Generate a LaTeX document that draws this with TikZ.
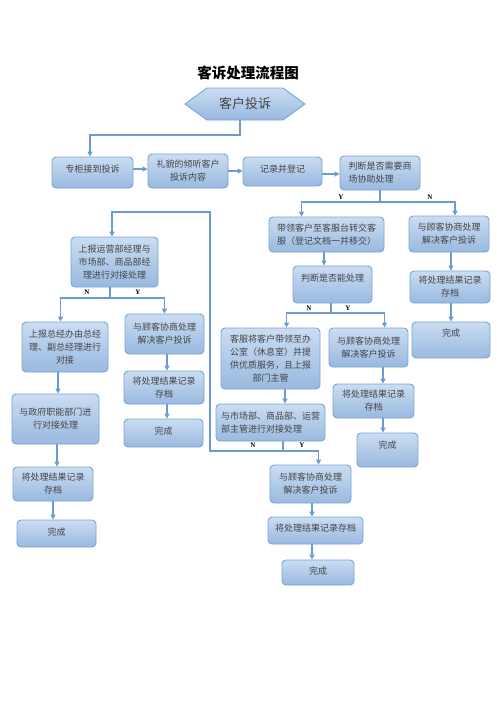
\documentclass[tikz,border=0pt]{standalone}
\usepackage{fontspec}
\newfontfamily\cjk{Noto Sans CJK SC}
\newfontfamily\lat{Liberation Serif}
\usetikzlibrary{shapes.symbols,arrows.meta,calc}
\definecolor{lineblue}{HTML}{6C9BD2}
\definecolor{boxtop}{HTML}{CADDF2}
\definecolor{boxbot}{HTML}{98B9DF}
\definecolor{boxedge}{HTML}{7BA4D3}
\definecolor{txt}{HTML}{444444}
\tikzset{
 box/.style={draw=boxedge, line width=0.9pt, rounded corners=4pt, top color=boxtop, bottom color=boxbot, font=\cjk\fontsize{9}{13}\selectfont, text=txt, align=center, inner sep=2pt},
 hexs/.style={shape=signal, signal to=west and east, signal pointer angle=72, draw=boxedge, line width=0.9pt, top color=boxtop, bottom color=boxbot, font=\cjk\fontsize{13}{15}\selectfont, text=txt, inner sep=0pt},
 arr/.style={draw=lineblue, line width=1.6pt, -{Triangle[length=5pt,width=5pt]}},
 ln/.style={draw=lineblue, line width=1.6pt},
 yn/.style={font=\lat\bfseries\fontsize{7}{8}\selectfont, text=black, inner sep=0pt},
 ttl/.style={font=\cjk\bfseries\fontsize{14.5}{16}\selectfont, text=black}
}
\begin{document}
\begin{tikzpicture}[x=1pt,y=-1pt]
\fill[white] (0,0) rectangle (496,702);
\useasboundingbox (0,0) rectangle (496,702);

\node[ttl] (title) at (248,73) {客诉处理流程图};
\node[hexs, minimum width=120pt, minimum height=32pt] (hex) at (245,104) {客户投诉};

% row 1
\node[box, minimum width=81pt, minimum height=31pt, text depth=8pt] (n1) at (92.5,172.5) {专柜接到投诉};
\node[box, minimum width=80pt, minimum height=34pt] (n2) at (188,171) {礼貌的倾听客户\\投诉内容};
\node[box, minimum width=79pt, minimum height=29pt, text depth=6pt] (n3) at (282.5,171.5) {记录并登记};
\node[box, minimum width=80pt, minimum height=34pt, align=left] (n4) at (380,173) {判断是否需要商\\场协助处理};

% right part
\node[box, minimum width=115pt, minimum height=35pt] (n5) at (326.5,234.5) {带领客户至客服台转交客\\服（登记文档一并移交）};
\node[box, minimum width=80pt, minimum height=36pt] (n6) at (449,234) {与顾客协商处理\\解决客户投诉};
\node[box, minimum width=79pt, minimum height=37pt, text depth=13pt] (n7) at (332.5,284.5) {判断是否能处理};
\node[box, minimum width=99pt, minimum height=61pt] (n8) at (270.5,358.5) {客服将客户带领至办\\公室（休息室）并提\\供优质服务，且上报\\部门主管};
\node[box, minimum width=79pt, minimum height=39pt] (n9) at (368.5,347.5) {与顾客协商处理\\解决客户投诉};
\node[box, minimum width=81pt, minimum height=34pt] (n10) at (373.5,401) {将处理结果记录\\存档};
\node[box, minimum width=61pt, minimum height=34pt, text depth=10pt] (n11) at (387.5,450) {完成};
\node[box, minimum width=109pt, minimum height=37pt, align=left] (n12) at (270.5,422.5) {与市场部、商品部、运营\\部主管进行对接处理};
\node[box, minimum width=80pt, minimum height=32pt] (n13) at (450,287) {将处理结果记录\\存档};
\node[box, minimum width=78pt, minimum height=36pt, text depth=14pt] (n14) at (451,340) {完成};

% left part
\node[box, minimum width=87pt, minimum height=50pt] (n15) at (114.5,262) {上报运营部经理与\\市场部、商品部经\\理进行对接处理};
\node[box, minimum width=86pt, minimum height=50pt] (n16) at (65,347) {上报总经办由总经\\理、副总经理进行\\对接};
\node[box, minimum width=79pt, minimum height=40pt] (n17) at (164.5,334) {与顾客协商处理\\解决客户投诉};
\node[box, minimum width=80pt, minimum height=33pt] (n18) at (164,387.5) {将处理结果记录\\存档};
\node[box, minimum width=79pt, minimum height=28pt, text depth=5pt] (n19) at (163.5,433) {完成};
\node[box, minimum width=87pt, minimum height=50pt] (n20) at (55.5,419) {与政府职能部门进\\行对接处理};
\node[box, minimum width=80pt, minimum height=34pt] (n21) at (53,484) {将处理结果记录\\存档};
\node[box, minimum width=79pt, minimum height=27pt, text depth=4pt] (n22) at (56.5,533.5) {完成};

% bottom middle
\node[box, minimum width=81pt, minimum height=38pt] (n23) at (310.5,484) {与顾客协商处理\\解决客户投诉};
\node[box, minimum width=95pt, minimum height=27pt, text depth=6pt] (n24) at (315.5,530.5) {将处理结果记录存档};
\node[box, minimum width=72pt, minimum height=25pt, text depth=3pt] (n25) at (318,572.5) {完成};

% junctions
\coordinate (jh) at (240,135);
\coordinate (j4) at (380,202);
\coordinate (j7) at (331,313);
\coordinate (j12) at (283,451);
\coordinate (jl1) at (210,451);
\coordinate (jl2) at (210,212);
\coordinate (j15) at (110,298);

% labels
\node[yn] (y4) at (341,197) {Y};
\node[yn] (n4l) at (430,197) {N};
\node[yn] (n7l) at (309,308) {N};
\node[yn] (y7) at (348,308) {Y};
\node[yn] (n12l) at (253,445) {N};
\node[yn] (y12) at (302,445) {Y};
\node[yn] (n15l) at (87,292) {N};
\node[yn] (y15) at (138,292) {Y};

% connectors
\draw[arr] ([xshift=-5pt]hex.south) -- (jh) -| ([xshift=-2.5pt]n1.north);
\draw[arr] ([yshift=3.5pt]n1.east) -- ([yshift=3.5pt]n1.east -| n2.west);
\draw[arr] (n2.east) -- (n2.east -| n3.west);
\draw[arr] ([yshift=-2.5pt]n3.east) -- ([yshift=-2.5pt]n3.east -| n4.west);

\draw[ln] (n4.south) -- (j4);
\draw[arr] (j4) -| ([xshift=33pt]n5.north west);
\draw[arr] (j4) -| ([xshift=6pt]n6.north);

\draw[arr] ([xshift=-2.5pt]n5.south) -- ([xshift=-2.5pt]n5.south |- n7.north);
\draw[ln] ([xshift=-1.5pt]n7.south) -- (j7);
\draw[arr] (j7) -| ([xshift=66pt]n8.north west);
\draw[arr] (j7) -| ([xshift=56pt]n9.north west);
\draw[arr] ([xshift=14.5pt]n8.south) -- ([xshift=14.5pt]n8.south |- n12.north);
\draw[arr] ([xshift=14.5pt]n9.south) -- ([xshift=14.5pt]n9.south |- n10.north);
\draw[arr] ([xshift=9.5pt]n10.south) -- ([xshift=9.5pt]n10.south |- n11.north);

\draw[ln] ([xshift=12.5pt]n12.south) -- (j12);
\draw[arr] (j12) -- (jl1) -- (jl2) -| ([xshift=-2.5pt]n15.north);
\draw[arr] (j12) -| ([xshift=49pt]n23.north west);
\draw[arr] ([xshift=1.5pt]n23.south) -- ([xshift=1.5pt]n23.south |- n24.north);
\draw[arr] ([xshift=-3.5pt]n24.south) -- ([xshift=-3.5pt]n24.south |- n25.north);

\draw[arr] ([xshift=2pt]n6.south) -- ([xshift=2pt]n6.south |- n13.north);
\draw[arr] ([xshift=1pt]n13.south) -- ([xshift=1pt]n13.south |- n14.north);

\draw[ln] ([xshift=-4.5pt]n15.south) -- (j15);
\draw[arr] (j15) -| ([xshift=39pt]n16.north west);
\draw[arr] (j15) -| (n17.north);
\draw[arr] ([xshift=2.5pt]n17.south) -- ([xshift=2.5pt]n17.south |- n18.north);
\draw[arr] ([xshift=3pt]n18.south) -- ([xshift=3pt]n18.south |- n19.north);
\draw[arr] ([xshift=-7pt]n16.south) -- ([xshift=-7pt]n16.south |- n20.north);
\draw[arr] ([xshift=1.5pt]n20.south) -- ([xshift=1.5pt]n20.south |- n21.north);
\draw[arr] (n21.south) -- (n21.south |- n22.north);
\end{tikzpicture}
\end{document}
